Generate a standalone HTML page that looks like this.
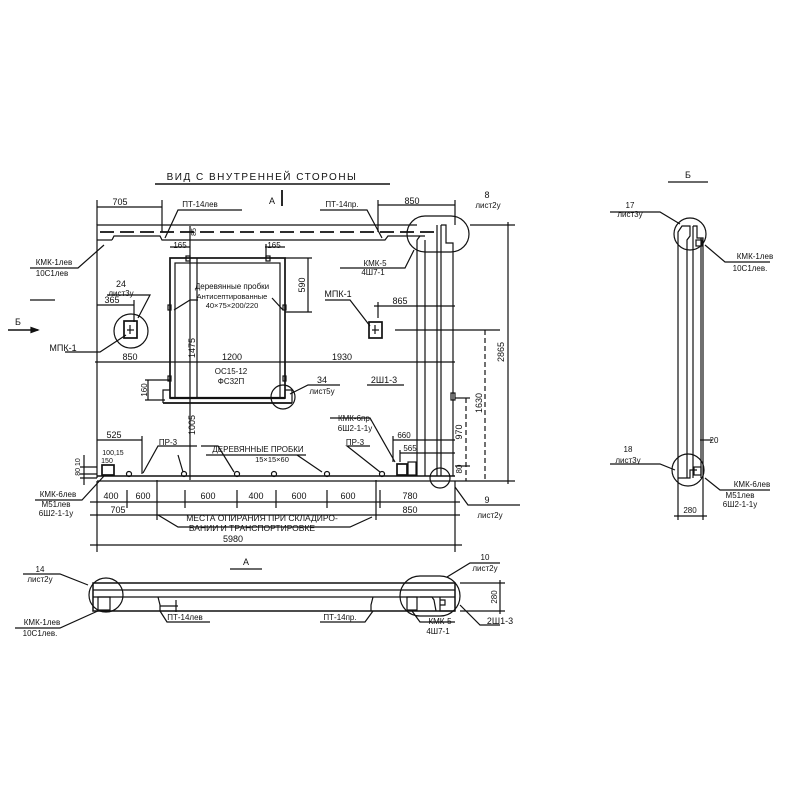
<!DOCTYPE html>
<html><head><meta charset="utf-8"><style>
html,body{margin:0;padding:0;background:#fff}
svg{display:block}
text{font-family:"Liberation Sans","DejaVu Sans",sans-serif;fill:#111}
</style></head><body>
<svg width="800" height="800" viewBox="0 0 800 800" xmlns="http://www.w3.org/2000/svg">
<g stroke="#111" stroke-width="1.2" fill="none">
<line x1="155" y1="184" x2="390" y2="184" stroke-width="1.5"/>
<line x1="282" y1="190" x2="282" y2="206" stroke-width="1.8"/>
<polyline points="97,478 97,225 417,225"/>
<line x1="97" y1="240" x2="112" y2="240"/>
<polyline points="112,240 114,236 160,236 162,240 385,240 388,236 420,236"/>
<line x1="100" y1="232" x2="440" y2="232" stroke-dasharray="14,6" stroke-width="1.7"/>
<line x1="97" y1="476" x2="455" y2="476" stroke-width="1.5"/>
<line x1="97" y1="481" x2="455" y2="481"/>
<line x1="417" y1="240" x2="417" y2="476"/>
<line x1="425" y1="240" x2="425" y2="476"/>
<line x1="437" y1="225" x2="437" y2="476"/>
<line x1="441" y1="225" x2="441" y2="476"/>
<polyline points="441,225 446,225 446,243 453,243 453,476"/>
<polyline points="417,240 420,236 425,236"/>
<rect x="407" y="216" width="62" height="36" rx="18" ry="18"/>
<rect x="170" y="258" width="115" height="140" stroke-width="1.7"/>
<rect x="175" y="263" width="105" height="135"/>
<line x1="163" y1="403" x2="292" y2="403" stroke-width="1.7"/>
<polyline points="163,403 163,390 170,390"/>
<polyline points="292,403 292,390 285,390"/>
<line x1="170" y1="398" x2="285" y2="398" stroke-width="2.2"/>
<rect x="186" y="256" width="4" height="5"/>
<rect x="266" y="256" width="4" height="5"/>
<rect x="168" y="305" width="3" height="5"/>
<rect x="283" y="305" width="3" height="5"/>
<rect x="168" y="376" width="3" height="5"/>
<rect x="283" y="376" width="3" height="5"/>
<circle cx="283" cy="397" r="12"/>
<circle cx="131" cy="331" r="17"/>
<rect x="124" y="321" width="13" height="17" stroke-width="1.7"/>
<line x1="130" y1="325" x2="130" y2="334"/><line x1="127" y1="330" x2="134" y2="330"/>
<rect x="369" y="322" width="13" height="16" stroke-width="1.7"/>
<line x1="375" y1="325" x2="375" y2="334"/><line x1="372" y1="330" x2="379" y2="330"/>
<rect x="102" y="465" width="12" height="10" stroke-width="1.7"/>
<rect x="397" y="464" width="10" height="11" stroke-width="1.7"/>
<rect x="408" y="462" width="8" height="13"/>
<circle cx="440" cy="478" r="10"/>
<circle cx="129" cy="474" r="2.5"/><circle cx="184" cy="474" r="2.5"/><circle cx="237" cy="474" r="2.5"/>
<circle cx="274" cy="474" r="2.5"/><circle cx="327" cy="474" r="2.5"/><circle cx="382" cy="474" r="2.5"/>
<rect x="451" y="393" width="4" height="7"/>
<line x1="97" y1="207" x2="162" y2="207"/>
<line x1="97" y1="200" x2="97" y2="225"/><line x1="162" y1="200" x2="162" y2="232"/>
<line x1="378" y1="205" x2="455" y2="205"/>
<line x1="378" y1="200" x2="378" y2="232"/><line x1="455" y1="200" x2="455" y2="225"/>
<polyline points="165,238 178,210 242,210"/>
<polyline points="382,238 367,210 320,210"/>
<polyline points="30,268 78,268 104,245"/>
<polyline points="30,300 55,300"/>
<polyline points="107,295 150,295 138,318"/>
<line x1="97" y1="305" x2="134" y2="305"/><line x1="134" y1="300" x2="134" y2="322"/>
<polyline points="65,352 100,352 126,335"/>
<line x1="8" y1="330" x2="38" y2="330" stroke-width="1.5"/>
<path d="M38,330 l-7,-2.5 v5z" fill="#111"/>
<line x1="170" y1="247" x2="190" y2="247"/><line x1="265" y1="247" x2="285" y2="247"/>
<line x1="190" y1="226" x2="190" y2="480"/>
<line x1="266" y1="244" x2="266" y2="258"/>
<line x1="285" y1="258" x2="312" y2="258"/><line x1="285" y1="312" x2="312" y2="312"/>
<line x1="308" y1="258" x2="308" y2="312"/>
<polyline points="174,310 190,300 198,300"/>
<polyline points="283,310 272,298"/>
<polyline points="325,300 350,300 370,326"/>
<line x1="374" y1="306" x2="455" y2="306"/>
<line x1="378" y1="302" x2="378" y2="318"/>
<line x1="395" y1="330" x2="500" y2="330"/>
<polyline points="340,268 405,268 414,250"/>
<line x1="95" y1="362" x2="455" y2="362"/>
<line x1="367" y1="385" x2="404" y2="385"/>
<polyline points="290,394 308,385 340,385"/>
<line x1="148" y1="380" x2="148" y2="400"/><line x1="145" y1="380" x2="170" y2="380"/><line x1="145" y1="400" x2="165" y2="400"/>
<line x1="197" y1="258" x2="197" y2="398"/>
<line x1="97" y1="440" x2="142" y2="440"/><line x1="142" y1="436" x2="142" y2="474"/>
<polyline points="143,473 158,446 197,446"/>
<polyline points="201,446 218,446 234,472"/>
<line x1="206" y1="455" x2="306" y2="455"/>
<polyline points="178,455 183,472"/>
<polyline points="297,455 322,472"/>
<polyline points="370,446 347,446 380,472"/>
<polyline points="330,418 370,418 395,462"/>
<line x1="393" y1="440" x2="455" y2="440"/>
<line x1="400" y1="453" x2="455" y2="453"/>
<line x1="393" y1="436" x2="393" y2="462"/>
<line x1="400" y1="450" x2="400" y2="462"/>
<line x1="80" y1="467" x2="97" y2="467"/><line x1="80" y1="474" x2="97" y2="474"/><line x1="80" y1="478" x2="97" y2="478"/>
<line x1="84" y1="455" x2="84" y2="485"/>
<polyline points="35,500 82,500 104,476"/>
<line x1="90" y1="502" x2="460" y2="502"/>
<line x1="90" y1="515" x2="460" y2="515"/>
<line x1="90" y1="545" x2="462" y2="545"/>
<line x1="97" y1="481" x2="97" y2="552"/>
<line x1="455" y1="481" x2="455" y2="552"/>
<line x1="127" y1="490" x2="127" y2="508"/>
<line x1="157" y1="480" x2="157" y2="520"/>
<line x1="185" y1="490" x2="185" y2="508"/>
<line x1="237" y1="490" x2="237" y2="508"/>
<line x1="276" y1="490" x2="276" y2="508"/>
<line x1="327" y1="490" x2="327" y2="508"/>
<line x1="376" y1="480" x2="376" y2="520"/>
<line x1="380" y1="490" x2="380" y2="508"/>
<polyline points="158,515 178,527 350,527 372,517"/>
<polyline points="455,487 468,505 520,505"/>
<line x1="470" y1="225" x2="515" y2="225"/>
<line x1="508" y1="222" x2="508" y2="484"/>
<line x1="455" y1="481" x2="515" y2="481"/>
<line x1="485" y1="330" x2="485" y2="481" stroke-dasharray="5,3"/>
<line x1="466" y1="398" x2="466" y2="481" stroke-dasharray="5,3"/>
<line x1="455" y1="398" x2="470" y2="398"/>
<line x1="455" y1="466" x2="470" y2="466"/>
<line x1="230" y1="569" x2="262" y2="569"/>
<rect x="93" y="583" width="362" height="28" stroke-width="1.5"/>
<line x1="93" y1="590" x2="455" y2="590"/>
<line x1="93" y1="597" x2="455" y2="597"/>
<polyline points="158,597 160,605 160,611"/>
<polyline points="373,597 371,605 371,611"/>
<circle cx="106" cy="595" r="17"/>
<rect x="400" y="576" width="60" height="40" rx="20"/>
<polyline points="420,597 432,597 434,600 436,611"/>
<rect x="98" y="597" width="12" height="13"/>
<rect x="407" y="597" width="10" height="13"/>
<polyline points="440,597 440,611 455,611"/>
<polyline points="440,600 445,600 445,605 440,605"/>
<line x1="160" y1="606" x2="178" y2="606"/>
<line x1="176" y1="600" x2="176" y2="612"/>
<polyline points="23,574 60,574 88,585"/>
<polyline points="15,628 60,628 100,610"/>
<polyline points="160,611 167,622 210,622"/>
<polyline points="373,611 365,622 320,622"/>
<polyline points="412,611 420,622 455,622"/>
<polyline points="447,577 470,563 500,563"/>
<polyline points="460,605 480,625 500,625"/>
<line x1="460" y1="583" x2="505" y2="583"/><line x1="460" y1="611" x2="505" y2="611"/>
<line x1="500" y1="580" x2="500" y2="614"/>
<line x1="668" y1="182" x2="708" y2="182"/>
<polyline points="678,478 678,232 682,226 690,226 690,236 687,240 687,478"/>
<line x1="693" y1="226" x2="693" y2="478"/>
<line x1="701" y1="238" x2="701" y2="478"/>
<polyline points="693,226 697,226 697,238 703,238 703,478"/>
<rect x="696" y="240" width="6" height="6"/>
<rect x="694" y="467" width="7" height="8"/>
<polyline points="678,478 690,478 690,470 697,470"/>
<circle cx="690" cy="234" r="16"/>
<circle cx="688" cy="470" r="16"/>
<polyline points="610,212 660,212 680,224"/>
<polyline points="705,245 725,262 770,262"/>
<polyline points="610,464 660,464 675,470"/>
<polyline points="705,478 720,490 770,490"/>
<line x1="678" y1="478" x2="678" y2="520"/><line x1="703" y1="478" x2="703" y2="520"/>
<line x1="674" y1="516" x2="707" y2="516"/>
<line x1="700" y1="440" x2="712" y2="440"/>
</g>
<g font-size="9" text-anchor="middle">
<text x="262" y="180" font-size="10" letter-spacing="1.5">ВИД С ВНУТРЕННЕЙ СТОРОНЫ</text>
<text x="272" y="204">А</text>
<text x="120" y="205">705</text>
<text x="200" y="207" font-size="8">ПТ-14лев</text>
<text x="342" y="207" font-size="8">ПТ-14пр.</text>
<text x="412" y="204">850</text>
<text x="487" y="198">8</text>
<text x="488" y="208" font-size="8">лист2у</text>
<text x="54" y="265" font-size="8">КМК-1лев</text>
<text x="52" y="276" font-size="8">10С1лев</text>
<text x="121" y="287">24</text>
<text x="121" y="296" font-size="8">лист3у</text>
<text x="112" y="303">365</text>
<text x="18" y="325">Б</text>
<text x="63" y="351">МПК-1</text>
<text x="180" y="248" font-size="8">165</text>
<text x="274" y="248" font-size="8">165</text>
<text x="232" y="289" font-size="8">Деревянные пробки</text>
<text x="232" y="299" font-size="7.5">Антисептированные</text>
<text x="232" y="308" font-size="7.5">40×75×200/220</text>
<text x="338" y="297">МПК-1</text>
<text x="400" y="304">865</text>
<text x="375" y="266" font-size="8">КМК-5</text>
<text x="373" y="275" font-size="8">4Ш7-1</text>
<text x="130" y="360">850</text>
<text x="232" y="360">1200</text>
<text x="342" y="360">1930</text>
<text x="231" y="374" font-size="8">ОС15-12</text>
<text x="231" y="384" font-size="8">ФС32П</text>
<text x="322" y="383">34</text>
<text x="322" y="394" font-size="8">лист5у</text>
<text x="384" y="383">2Ш1-3</text>
<text x="114" y="438">525</text>
<text x="168" y="445" font-size="8">ПР-3</text>
<text x="355" y="445" font-size="8">ПР-3</text>
<text x="258" y="452" font-size="8">ДЕРЕВЯННЫЕ ПРОБКИ</text>
<text x="272" y="462" font-size="7.5">15×15×60</text>
<text x="113" y="455" font-size="7">100,15</text>
<text x="107" y="463" font-size="7">150</text>
<text x="355" y="421" font-size="8">КМК-6пр.</text>
<text x="355" y="431" font-size="8">6Ш2-1-1у</text>
<text x="404" y="438" font-size="8">660</text>
<text x="410" y="451" font-size="8">565</text>
<text x="58" y="497" font-size="8">КМК-6лев</text>
<text x="56" y="507" font-size="8">М51лев</text>
<text x="56" y="516" font-size="8">6Ш2-1-1у</text>
<text x="111" y="499">400</text>
<text x="143" y="499">600</text>
<text x="208" y="499">600</text>
<text x="256" y="499">400</text>
<text x="299" y="499">600</text>
<text x="348" y="499">600</text>
<text x="410" y="499">780</text>
<text x="118" y="513">705</text>
<text x="410" y="513">850</text>
<text x="262" y="521" font-size="8.5">МЕСТА ОПИРАНИЯ ПРИ СКЛАДИРО-</text>
<text x="252" y="531" font-size="8.5">ВАНИИ И ТРАНСПОРТИРОВКЕ</text>
<text x="233" y="542">5980</text>
<text x="487" y="503">9</text>
<text x="490" y="518" font-size="8">лист2у</text>
<g transform="translate(504,352) rotate(-90)"><text>2865</text></g>
<g transform="translate(482,403) rotate(-90)"><text>1630</text></g>
<g transform="translate(462,432) rotate(-90)"><text>970</text></g>
<g transform="translate(462,469) rotate(-90)"><text font-size="8">80</text></g>
<g transform="translate(305,285) rotate(-90)"><text>590</text></g>
<g transform="translate(195,348) rotate(-90)"><text>1475</text></g>
<g transform="translate(195,425) rotate(-90)"><text>1005</text></g>
<g transform="translate(147,390) rotate(-90)"><text font-size="8">160</text></g>
<g transform="translate(80,467) rotate(-90)"><text font-size="7">80 10</text></g>
<g transform="translate(196,232) rotate(-90)"><text font-size="7">85</text></g>
<text x="246" y="565">А</text>
<text x="40" y="572" font-size="8">14</text>
<text x="40" y="582" font-size="8">лист2у</text>
<text x="42" y="625" font-size="8">КМК-1лев</text>
<text x="40" y="636" font-size="8">10С1лев.</text>
<text x="185" y="620" font-size="8">ПТ-14лев</text>
<text x="340" y="620" font-size="8">ПТ-14пр.</text>
<text x="440" y="624" font-size="8">КМК-5</text>
<text x="438" y="634" font-size="8">4Ш7-1</text>
<text x="485" y="560" font-size="8">10</text>
<text x="485" y="571" font-size="8">лист2у</text>
<text x="500" y="624" font-size="9">2Ш1-3</text>
<g transform="translate(497,597) rotate(-90)"><text font-size="8">280</text></g>
<text x="688" y="178">Б</text>
<text x="630" y="208" font-size="8">17</text>
<text x="630" y="217" font-size="8">лист3у</text>
<text x="755" y="259" font-size="8">КМК-1лев</text>
<text x="750" y="271" font-size="8">10С1лев.</text>
<text x="714" y="443" font-size="8">20</text>
<text x="628" y="452" font-size="8">18</text>
<text x="628" y="463" font-size="8">лист3у</text>
<text x="752" y="487" font-size="8">КМК-6лев</text>
<text x="740" y="498" font-size="8">М51лев</text>
<text x="740" y="507" font-size="8">6Ш2-1-1у</text>
<text x="690" y="513" font-size="8">280</text>
</g>
</svg>
</body></html>
